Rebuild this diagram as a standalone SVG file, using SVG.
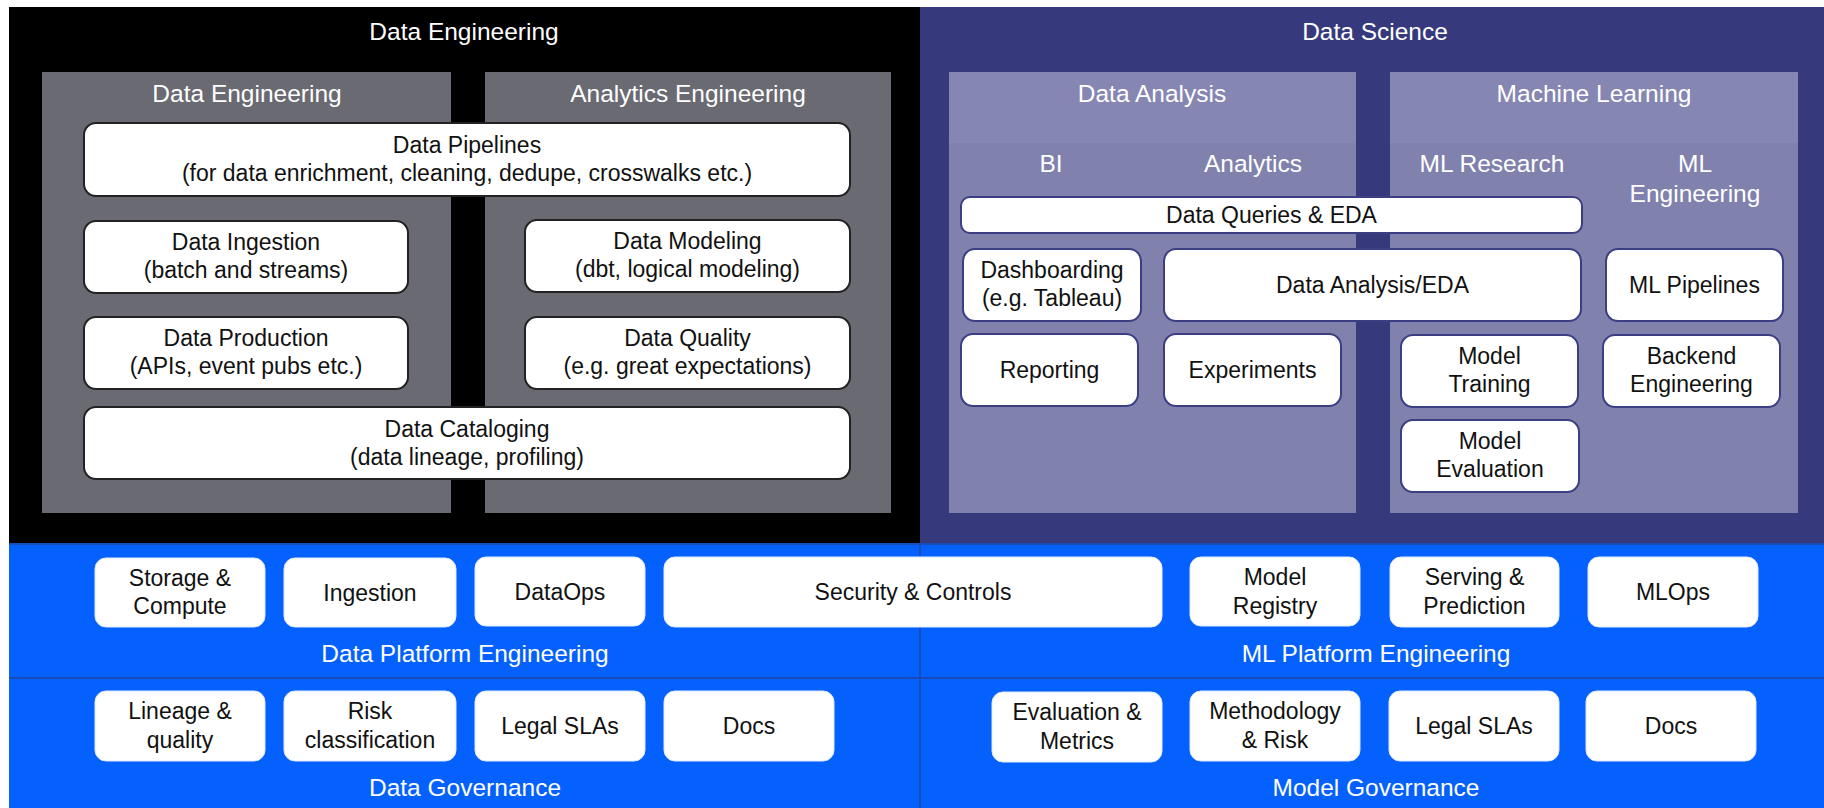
<svg xmlns="http://www.w3.org/2000/svg" width="1824" height="808" viewBox="0 0 1824 808">
<style>
text{font-family:"Liberation Sans",Arial,sans-serif;text-anchor:middle}
.t{font-size:23px;fill:#111}
.h{font-size:24.5px;fill:#fff}
.de{fill:#fff;stroke:#222;stroke-width:2}
.ds{fill:#fff;stroke:#3c3e84;stroke-width:2}
.bl{fill:#fff;stroke:#dfe8ff;stroke-width:1}
.gray{fill:#6a6a72}
.lp{fill:#8081ad}
.lph{fill:#8586b2}
.div{stroke:#1a4cb8;stroke-width:2;fill:none}
</style>
<rect width="1824" height="808" fill="#fff"/>
<g id="backgrounds">
<rect x="9" y="7" width="911" height="537" fill="#000"/>
<rect x="920" y="7" width="904" height="537" fill="#363a7d"/>
<rect x="9" y="544" width="1815" height="264" fill="#0561fe"/>
<line class="div" x1="9" y1="544" x2="1824" y2="544"/>
<line class="div" x1="9" y1="678" x2="1824" y2="678"/>
<line class="div" x1="920" y1="544" x2="920" y2="808"/>
</g>
<g id="data-engineering-section">
<text class="h" x="464" y="39.5">Data Engineering</text>
<text class="h" x="1375" y="39.5">Data Science</text>
</g>
<g id="panel-data-engineering">
<rect class="gray" x="42" y="72" width="409" height="441"/>
<text class="h" x="247" y="102">Data Engineering</text>
</g>
<g id="panel-analytics-engineering">
<rect class="gray" x="485" y="72" width="406" height="441"/>
<text class="h" x="688" y="102">Analytics Engineering</text>
</g>
<g id="panel-data-analysis">
<rect class="lp" x="949" y="72" width="407" height="441"/>
<rect class="lph" x="949" y="72" width="407" height="71"/>
<text class="h" x="1152" y="102">Data Analysis</text>
<text class="h" x="1051" y="172">BI</text>
<text class="h" x="1253" y="172">Analytics</text>
</g>
<g id="panel-machine-learning">
<rect class="lp" x="1390" y="72" width="408" height="441"/>
<rect class="lph" x="1390" y="72" width="408" height="71"/>
<text class="h" x="1594" y="102">Machine Learning</text>
<text class="h" x="1492" y="172">ML Research</text>
<text class="h" x="1695" y="172">ML</text>
<text class="h" x="1695" y="202">Engineering</text>
</g>
<g id="connectors"/>
<g id="data-pipelines"><rect class="de" x="84" y="123" width="766" height="73" rx="12"/><text class="t" x="467" y="152.5">Data Pipelines</text><text class="t" x="467" y="180.5">(for data enrichment, cleaning, dedupe, crosswalks etc.)</text></g>
<g id="data-ingestion"><rect class="de" x="84" y="221" width="324" height="72" rx="12"/><text class="t" x="246" y="250">Data Ingestion</text><text class="t" x="246" y="278">(batch and streams)</text></g>
<g id="data-production"><rect class="de" x="84" y="317" width="324" height="72" rx="12"/><text class="t" x="246" y="346">Data Production</text><text class="t" x="246" y="374">(APIs, event pubs etc.)</text></g>
<g id="data-modeling"><rect class="de" x="525" y="220" width="325" height="72" rx="12"/><text class="t" x="687.5" y="249">Data Modeling</text><text class="t" x="687.5" y="277">(dbt, logical modeling)</text></g>
<g id="data-quality"><rect class="de" x="525" y="317" width="325" height="72" rx="12"/><text class="t" x="687.5" y="346">Data Quality</text><text class="t" x="687.5" y="374">(e.g. great expectations)</text></g>
<g id="data-cataloging"><rect class="de" x="84" y="407" width="766" height="72" rx="12"/><text class="t" x="467" y="436.5">Data Cataloging</text><text class="t" x="467" y="464.5">(data lineage, profiling)</text></g>
<g id="data-queries"><rect class="ds" x="961" y="197" width="621" height="36" rx="9"/><text class="t" x="1271.5" y="223">Data Queries &amp; EDA</text></g>
<g id="dashboarding"><rect class="ds" x="963" y="249" width="178" height="72" rx="12"/><text class="t" x="1052" y="278">Dashboarding</text><text class="t" x="1052" y="306">(e.g. Tableau)</text></g>
<g id="data-analysis-eda"><rect class="ds" x="1164" y="249" width="417" height="72" rx="12"/><text class="t" x="1372.5" y="292.5">Data Analysis/EDA</text></g>
<g id="ml-pipelines"><rect class="ds" x="1606" y="249" width="177" height="72" rx="12"/><text class="t" x="1694.5" y="292.5">ML Pipelines</text></g>
<g id="reporting"><rect class="ds" x="961" y="334" width="177" height="72" rx="12"/><text class="t" x="1049.5" y="377.5">Reporting</text></g>
<g id="experiments"><rect class="ds" x="1164" y="334" width="177" height="72" rx="12"/><text class="t" x="1252.5" y="377.5">Experiments</text></g>
<g id="model-training"><rect class="ds" x="1401" y="335" width="177" height="72" rx="12"/><text class="t" x="1489.5" y="364">Model</text><text class="t" x="1489.5" y="392">Training</text></g>
<g id="backend-engineering"><rect class="ds" x="1603" y="335" width="177" height="72" rx="12"/><text class="t" x="1691.5" y="364">Backend</text><text class="t" x="1691.5" y="392">Engineering</text></g>
<g id="model-evaluation"><rect class="ds" x="1401" y="420" width="178" height="72" rx="12"/><text class="t" x="1490" y="449">Model</text><text class="t" x="1490" y="477">Evaluation</text></g>
<g id="data-platform-engineering"><text class="h" x="465" y="662">Data Platform Engineering</text></g>
<g id="ml-platform-engineering"><text class="h" x="1376" y="662">ML Platform Engineering</text></g>
<g id="data-governance"><text class="h" x="465" y="796">Data Governance</text></g>
<g id="model-governance"><text class="h" x="1376" y="796">Model Governance</text></g>
<g id="storage-compute"><rect class="bl" x="95" y="558" width="170" height="69" rx="11"/><text class="t" x="180" y="585.5">Storage &amp;</text><text class="t" x="180" y="614">Compute</text></g>
<g id="ingestion"><rect class="bl" x="284" y="558" width="172" height="69" rx="11"/><text class="t" x="370" y="600.5">Ingestion</text></g>
<g id="dataops"><rect class="bl" x="475" y="557" width="170" height="69" rx="11"/><text class="t" x="560" y="599.5">DataOps</text></g>
<g id="security-controls"><rect class="bl" x="664" y="557" width="498" height="70" rx="11"/><text class="t" x="913" y="600">Security &amp; Controls</text></g>
<g id="model-registry"><rect class="bl" x="1190" y="557" width="170" height="69" rx="11"/><text class="t" x="1275" y="585">Model</text><text class="t" x="1275" y="613.5">Registry</text></g>
<g id="serving-prediction"><rect class="bl" x="1390" y="557" width="169" height="70" rx="11"/><text class="t" x="1474.5" y="585">Serving &amp;</text><text class="t" x="1474.5" y="613.5">Prediction</text></g>
<g id="mlops"><rect class="bl" x="1588" y="557" width="170" height="70" rx="11"/><text class="t" x="1673" y="600">MLOps</text></g>
<g id="lineage-quality"><rect class="bl" x="95" y="691" width="170" height="70" rx="11"/><text class="t" x="180" y="719">Lineage &amp;</text><text class="t" x="180" y="747.5">quality</text></g>
<g id="risk-classification"><rect class="bl" x="284" y="691" width="172" height="70" rx="11"/><text class="t" x="370" y="719">Risk</text><text class="t" x="370" y="747.5">classification</text></g>
<g id="legal-slas-data"><rect class="bl" x="475" y="691" width="170" height="70" rx="11"/><text class="t" x="560" y="733.5">Legal SLAs</text></g>
<g id="docs-data"><rect class="bl" x="664" y="691" width="170" height="70" rx="11"/><text class="t" x="749" y="733.5">Docs</text></g>
<g id="evaluation-metrics"><rect class="bl" x="992" y="692" width="170" height="70" rx="11"/><text class="t" x="1077" y="720">Evaluation &amp;</text><text class="t" x="1077" y="748.5">Metrics</text></g>
<g id="methodology-risk"><rect class="bl" x="1190" y="691" width="170" height="70" rx="11"/><text class="t" x="1275" y="719">Methodology</text><text class="t" x="1275" y="747.5">&amp; Risk</text></g>
<g id="legal-slas-model"><rect class="bl" x="1389" y="691" width="170" height="70" rx="11"/><text class="t" x="1474" y="733.5">Legal SLAs</text></g>
<g id="docs-model"><rect class="bl" x="1586" y="691" width="170" height="70" rx="11"/><text class="t" x="1671" y="733.5">Docs</text></g>
</svg>
